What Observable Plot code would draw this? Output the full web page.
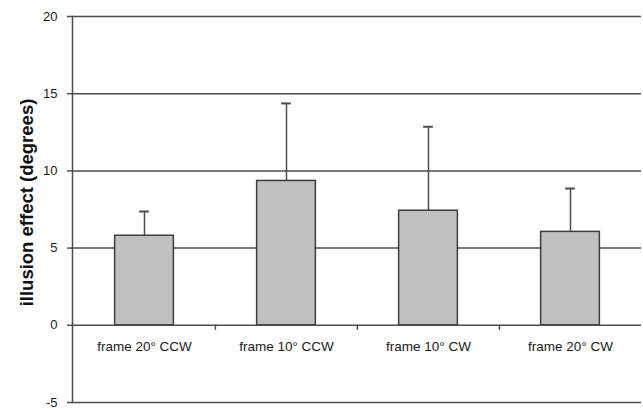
<!DOCTYPE html>
<html>
<head>
<meta charset="utf-8">
<script src="https://cdn.jsdelivr.net/npm/d3@7"></script>
<script src="https://cdn.jsdelivr.net/npm/@observablehq/plot@0.6"></script>
<style>
  html, body { margin: 0; padding: 0; background: #fff; }
  svg { font-family: "Liberation Sans", Arial, sans-serif; }
</style>
</head>
<body>
<div id="chart"></div>
<script>
const categories = ["frame 20° CCW", "frame 10° CCW", "frame 10° CW", "frame 20° CW"];
const means = [5.8, 9.35, 7.42, 6.05];
const errors = [1.57, 5.02, 5.44, 2.81];
const yTicks = [-5, 0, 5, 10, 15, 20];
const gridValues = [5, 10, 15, 20, -5];
const yTitle = "illusion effect (degrees)";

const data = categories.map((c, i) => ({cat: c, mean: means[i], top: means[i] + errors[i]}));

const W = 643, H = 409, mL = 72, mR = 2;
const step = (W - mL - mR) / categories.length;
const barInset = (step - 59) / 2;
const capInset = (step - 10) / 2;
const lineColor = "#4d4d4d";

const chart = Plot.plot({
  width: W,
  height: H,
  marginLeft: mL,
  marginRight: mR,
  marginTop: 16,
  marginBottom: 7,
  style: {fontFamily: "'Liberation Sans', Arial, sans-serif", background: "#fff"},
  x: {domain: categories, padding: 0, axis: null},
  y: {type: "linear", domain: [-5, 20], axis: null},
  marks: [
    Plot.ruleY(gridValues, {stroke: lineColor, strokeWidth: 1.5}),
    Plot.ruleX(data, {x: "cat", y1: "mean", y2: "top", stroke: lineColor, strokeWidth: 1.5}),
    Plot.tickY(data, {x: "cat", y: "top", insetLeft: capInset, insetRight: capInset, stroke: lineColor, strokeWidth: 2}),
    Plot.barY(data, {x: "cat", y: "mean", fill: "#c0c0c0", stroke: "#3d3d3d", strokeWidth: 1.5, insetLeft: barInset, insetRight: barInset}),
    Plot.ruleY([0], {stroke: lineColor, strokeWidth: 1.5}),
    Plot.ruleX(categories.slice(1), {x: d => d, y1: 0, y2: 0, dx: -step / 2, insetBottom: -5, stroke: lineColor, strokeWidth: 1.5}),
    Plot.frame({anchor: "left", stroke: lineColor, strokeWidth: 1.5}),
    Plot.axisY(yTicks, {anchor: "left", tickSize: 5, tickPadding: 10, stroke: lineColor, strokeWidth: 1.5, fontSize: 13, fill: "#1a1a1a", tickFormat: d => String(d), label: null}),
    Plot.text(data, {x: "cat", y: 0, text: "cat", dy: 21, fontSize: 13.5, fill: "#1a1a1a"}),
    Plot.text([yTitle], {frameAnchor: "left", text: d => d, textAnchor: "middle", rotate: -90, dx: -45, dy: -7, fontSize: 18.5, fontWeight: "bold", fill: "#111"})
  ]
});
document.getElementById("chart").appendChild(chart);
</script>
</body>
</html>
